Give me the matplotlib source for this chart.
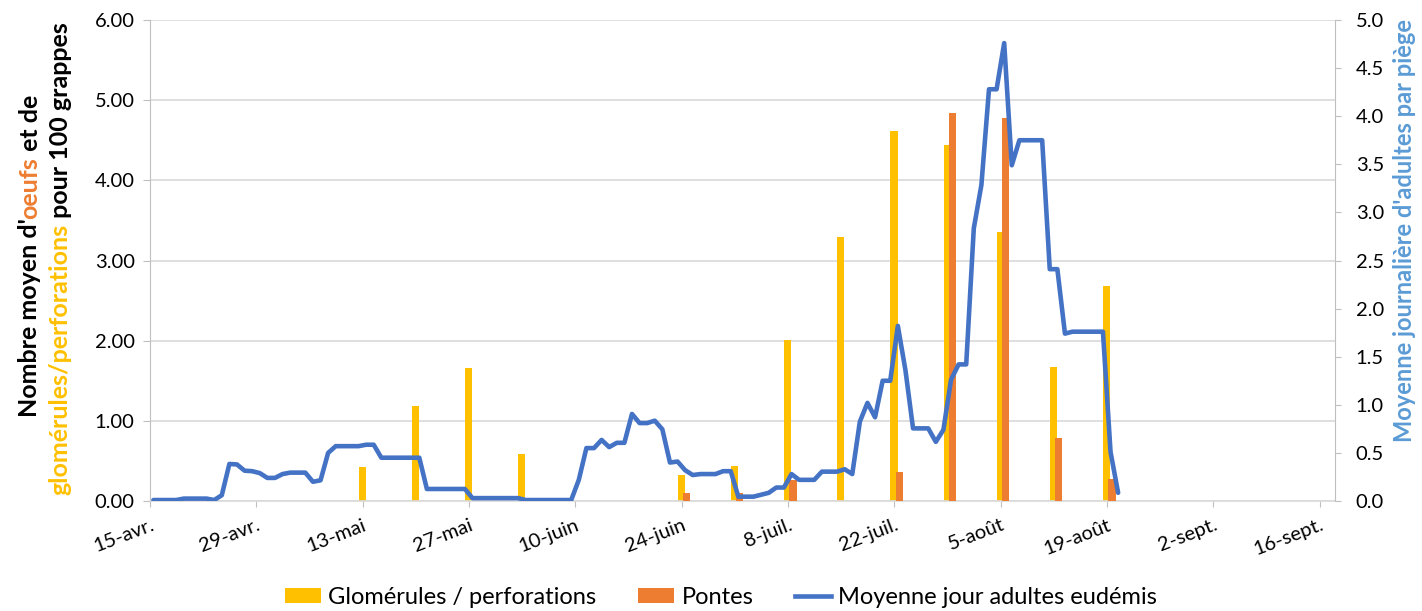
import matplotlib
matplotlib.use('Agg')
import matplotlib.pyplot as plt
import matplotlib.transforms as mtransforms
import numpy as np
from matplotlib.patches import Patch
from matplotlib.lines import Line2D
from matplotlib.ticker import FormatStrFormatter

FONT = ['Lato', 'DejaVu Sans']
plt.rcParams['font.family'] = FONT

# ---------------- data ----------------
tick_labels = ['15-avr.', '29-avr.', '13-mai', '27-mai', '10-juin', '24-juin',
               '8-juil.', '22-juil.', '5-août', '19-août', '2-sept.', '16-sept.']
tick_days = [0, 14, 28, 42, 56, 70, 84, 98, 112, 126, 140, 154]

# weekly counts (days since 15-avr.)
bar_days = [28, 35, 42, 49, 56, 63, 70, 77, 84, 91, 98, 105, 112, 119, 126]
glomerules = [0.42, 1.19, 1.66, 0.59, 0.0, 0.0, 0.33, 0.44, 2.01, 3.29, 4.62, 4.44, 3.36, 1.67, 2.68]
pontes = [0.0, 0.0, 0.0, 0.0, 0.0, 0.0, 0.10, 0.10, 0.26, 0.0, 0.36, 4.84, 4.78, 0.79, 0.28]

# daily mean adults per trap, from 15-avr.
adultes = [0.01, 0.01, 0.01, 0.01, 0.025, 0.025, 0.025, 0.025, 0.01, 0.06,
           0.385, 0.38, 0.315, 0.31, 0.29, 0.24, 0.24, 0.28, 0.295, 0.295,
           0.295, 0.20, 0.215, 0.50, 0.57, 0.57, 0.57, 0.57, 0.585, 0.585,
           0.45, 0.45, 0.45, 0.45, 0.45, 0.45, 0.125, 0.125, 0.125, 0.125,
           0.125, 0.125, 0.03, 0.03, 0.03, 0.03, 0.03, 0.03, 0.03, 0.01,
           0.01, 0.01, 0.01, 0.01, 0.01, 0.01, 0.22, 0.55, 0.55, 0.635,
           0.56, 0.605, 0.605, 0.905, 0.81, 0.81, 0.835, 0.745, 0.40, 0.41,
           0.32, 0.27, 0.28, 0.28, 0.28, 0.31, 0.31, 0.045, 0.045, 0.045,
           0.065, 0.085, 0.14, 0.14, 0.28, 0.22, 0.22, 0.22, 0.305, 0.305,
           0.305, 0.33, 0.28, 0.825, 1.02, 0.87, 1.25, 1.25, 1.82, 1.36,
           0.755, 0.755, 0.755, 0.615, 0.74, 1.26, 1.42, 1.42, 2.835, 3.285,
           4.28, 4.28, 4.76, 3.49, 3.75, 3.75, 3.75, 3.75, 2.41, 2.41,
           1.74, 1.76, 1.76, 1.76, 1.76, 1.76, 0.51, 0.085]

YELLOW = '#FFC000'
ORANGE = '#ED7D31'
BLUE = '#4472C4'
LBLUE = '#5B9BD5'
GRID = '#D9D9D9'
AXC = '#BFBFBF'

W, H = 1422, 611
fig = plt.figure(figsize=(W / 100, H / 100), dpi=100)
ax = fig.add_axes([150 / W, 1 - 501 / H, (1335 - 150) / W, (501 - 20) / H])
ax2 = ax.twinx()

bd = np.array(bar_days, dtype=float)
ax.bar(bd - 0.05, glomerules, width=0.95, color=YELLOW, zorder=2)
ax.bar(bd + 0.65, pontes, width=0.95, color=ORANGE, zorder=3)
ax2.plot(np.arange(len(adultes)) + 0.45, adultes, color=BLUE, lw=3.3,
         solid_joinstyle='round', solid_capstyle='round', zorder=4)

ax.set_xlim(0, 156)
ax.set_ylim(0, 6)
ax2.set_ylim(0, 5)
ax.set_yticks(np.arange(0, 6.01, 1))
ax2.set_yticks(np.arange(0, 5.01, 0.5))
ax.yaxis.set_major_formatter(FormatStrFormatter('%.2f'))
ax2.yaxis.set_major_formatter(FormatStrFormatter('%.1f'))
ax.set_axisbelow(True)
ax.yaxis.grid(True, color=GRID, lw=1.2)

ax.set_xticks(tick_days)
ax.set_xticklabels(tick_labels, rotation=21, ha='right', va='top',
                   rotation_mode='anchor')
shift = mtransforms.ScaledTranslation(14 / 100, 0, fig.dpi_scale_trans)
for lab in ax.get_xticklabels():
    lab.set_transform(lab.get_transform() + shift)
ax.tick_params(axis='x', length=4, color=AXC, labelsize=14.5, pad=7)
ax.tick_params(axis='y', length=5, color=AXC, labelsize=14.5, pad=6)
ax2.tick_params(axis='y', length=4, color=AXC, labelsize=14.5, pad=11)

for s in ['top', 'right']:
    ax.spines[s].set_visible(False)
for s in ['top', 'left', 'bottom']:
    ax2.spines[s].set_visible(False)
ax.spines['left'].set_color(AXC)
ax.spines['bottom'].set_color(GRID)
ax.spines['bottom'].set_linewidth(1.2)
ax2.spines['right'].set_color(AXC)

# ---- multicolour vertical axis titles ----
renderer = fig.canvas.get_renderer()


def vlabel(x_px, yc_img, pieces, fs):
    texts = [fig.text(0, 0, s, color=c, rotation=90, fontsize=fs,
                      fontweight='bold', ha='center', va='bottom')
             for s, c in pieces]
    hs = [t.get_window_extent(renderer).height for t in texts]
    y = (H - yc_img) - sum(hs) / 2
    for t, h in zip(texts, hs):
        t.set_position((x_px / W, y / H))
        y += h


vlabel(30, 256, [("Nombre moyen d'", 'black'), ("oeufs", ORANGE), (" et de", 'black')], 18)
vlabel(60, 259, [("glomérules/perforations", YELLOW), (" pour 100 grappes", 'black')], 18)
vlabel(1405, 230, [("Moyenne journalière d'adultes par piège", LBLUE)], 17)

handles = [Patch(facecolor=YELLOW), Patch(facecolor=ORANGE),
           Line2D([0], [0], color=BLUE, lw=3.3)]
labels = ['Glomérules / perforations', 'Pontes', 'Moyenne jour adultes eudémis']
fig.legend(handles, labels, loc='center', bbox_to_anchor=(721 / W, 1 - 597 / H),
           ncol=3, frameon=False, fontsize=17, handlelength=1.55,
           handleheight=0.6, handletextpad=0.3, columnspacing=1.75)

fig.savefig('out.png', dpi=100)
